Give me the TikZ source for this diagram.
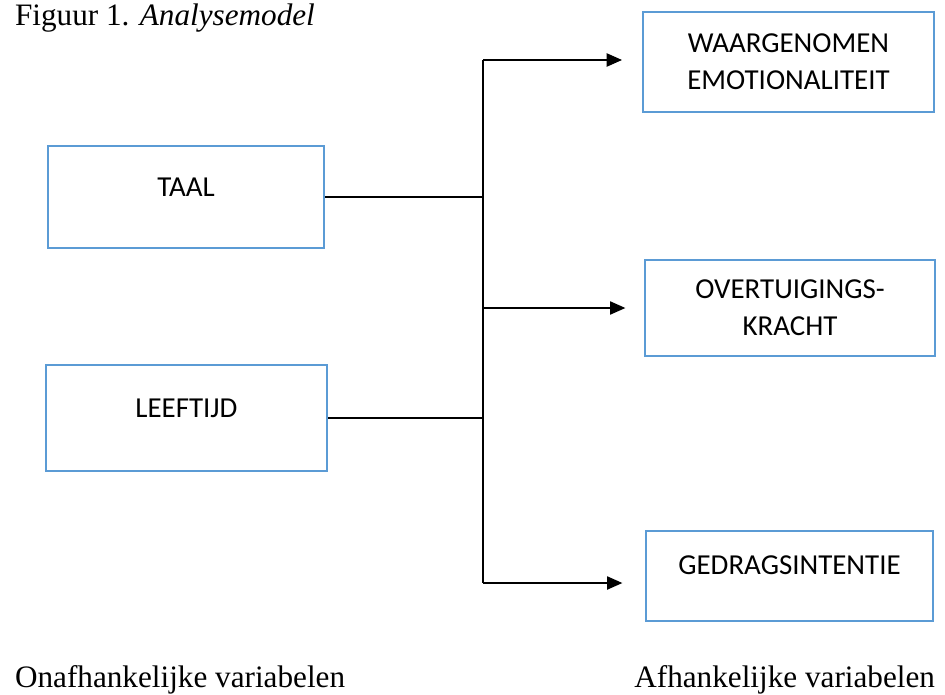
\documentclass[tikz,border=0pt]{standalone}
\usepackage{fontspec}
\setmainfont{Liberation Serif}
\newfontfamily\boxfont{Carlito}
\usetikzlibrary{arrows.meta}
\definecolor{boxblue}{RGB}{91,155,213}

\begin{document}
\begin{tikzpicture}[x=0.75pt,y=-0.75pt,>={Triangle[length=11.5pt,width=10pt]},line width=0.9pt]
        \tikzstyle{var}=[draw=boxblue,line width=1.5pt,align=center,inner sep=0pt,font=\boxfont\fontsize{21.7}{27.75}\selectfont]
        \tikzstyle{oneline}=[text height=14pt]
        \tikzstyle{caption}=[anchor=base west,font=\fontsize{23.4}{28}\selectfont]

        \useasboundingbox (0,0) rectangle (945,695);

        \node[caption] (titel) at (10,26) {Figuur 1. \textit{Analysemodel}};

        % onafhankelijke variabelen
        \node[var,oneline,minimum width=207pt,minimum height=76.5pt,text depth=15pt]   (taal)     at (186,197)   {TAAL};
        \node[var,oneline,minimum width=210.75pt,minimum height=79.5pt,text depth=15pt] (leeftijd) at (186.5,418) {LEEFTIJD};

        % afhankelijke variabelen
        \node[var,minimum width=218.25pt,minimum height=75pt]   (emotie)  at (788.5,62) {WAARGENOMEN\\EMOTIONALITEIT};
        \node[var,minimum width=217.5pt,minimum height=72pt]    (overt)   at (790,308)  {OVERTUIGINGS-\\KRACHT};
        \node[var,oneline,minimum width=215.25pt,minimum height=67.5pt,text depth=16.5pt] (gedrag) at (789.5,576) {GEDRAGSINTENTIE};

        \node[caption] (onafh) at (10,687) {Onafhankelijke variabelen};
        \node[caption,anchor=base east] (afh) at (940,687) {Afhankelijke variabelen};

        % verzamellijn
        \coordinate (bustop) at (483,60);
        \coordinate (busmid) at (483,308);
        \coordinate (busbot) at (483,583);

        \draw (bustop) -- (busbot);
        \draw (taal.east) -- (taal.east -| bustop);
        \draw (leeftijd.east) -- (leeftijd.east -| bustop);

        \draw[->,shorten >=15pt] (bustop) -- (emotie.west |- bustop);
        \draw[->,shorten >=14pt] (busmid) -- (overt.west);
        \draw[->,shorten >=17pt] (busbot) -- (gedrag.west |- busbot);
\end{tikzpicture}
\end{document}
